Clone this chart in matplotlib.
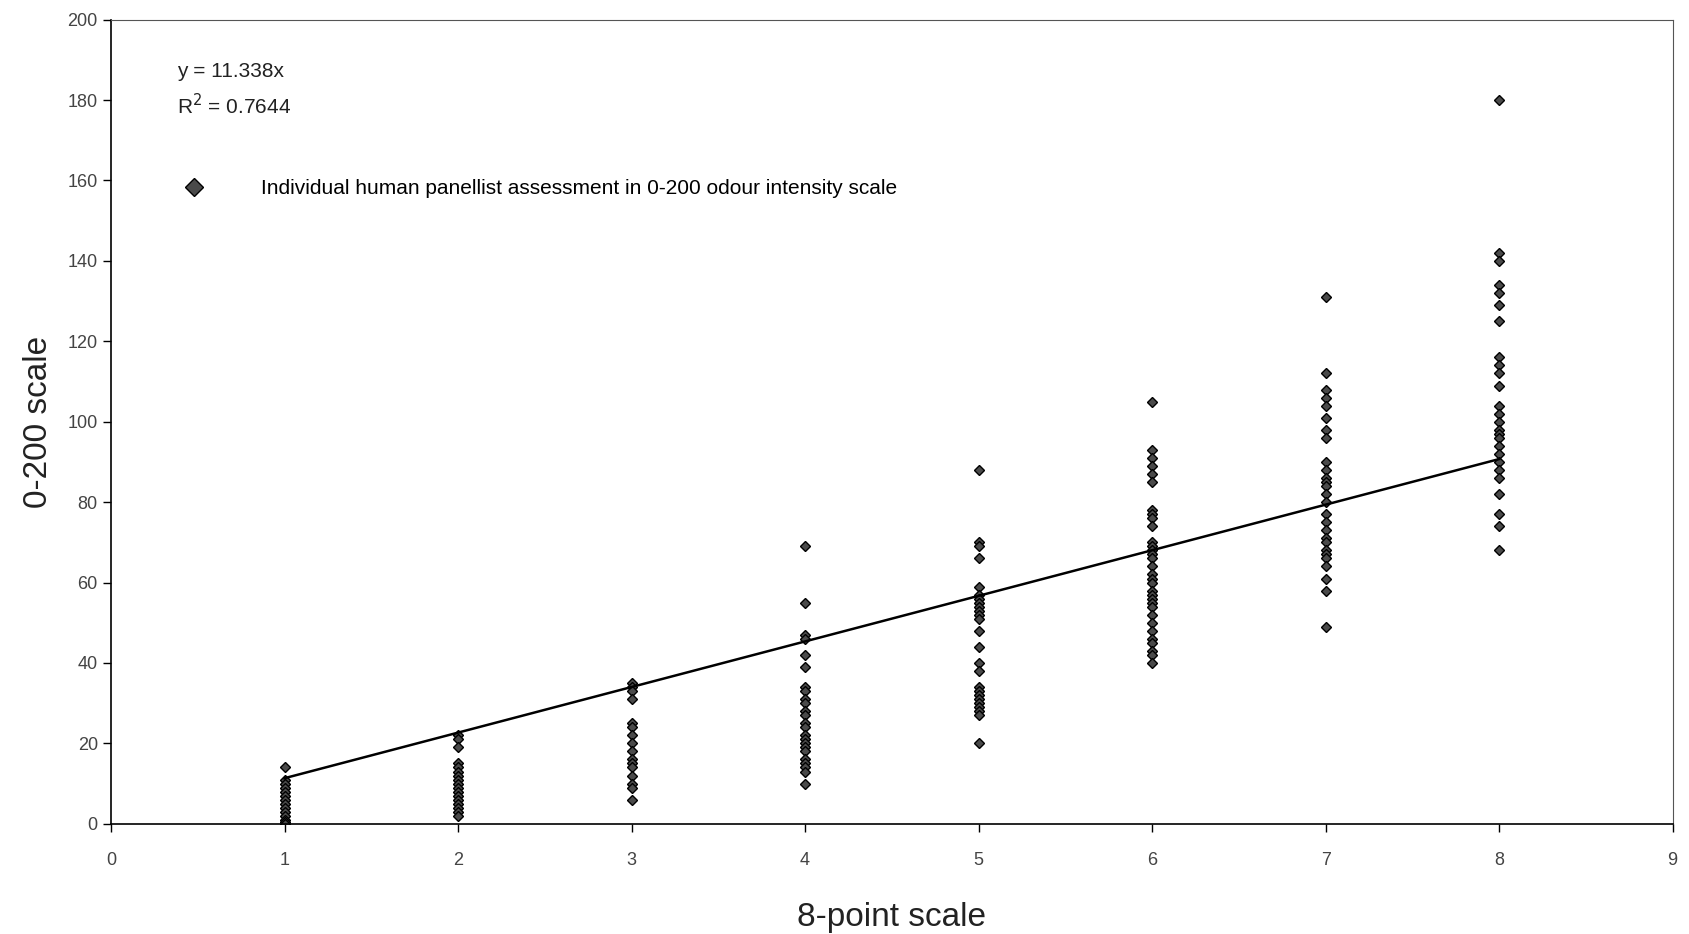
"""Panellist 0-200 odour intensity vs 8-point scale, with linear trend through origin."""

import matplotlib
matplotlib.use("Agg")
import matplotlib.pyplot as plt
import numpy as np

plt.rcParams["font.family"] = ["Liberation Sans", "DejaVu Sans"]

# values, one list per 8-point category
col1 = [14, 11, 10, 9, 8, 7, 6, 5, 4, 3, 2, 1, 0.5, 0]
col2 = [22, 21, 19, 15, 14, 13, 12, 11, 10, 9, 8, 7, 6, 5, 4, 3, 2]
col3 = [35, 34, 33, 31, 25, 24, 22, 20, 18, 16, 15, 14, 12, 10, 9, 6]
col4 = [69, 55, 47, 46, 42, 39, 34, 33, 31, 30, 28, 27, 25, 24, 22, 21, 20,
        19, 18, 16, 15, 14, 13, 10]
col5 = [88, 70, 69, 66, 59, 57, 56, 55, 54, 53, 52, 51, 48, 44, 40, 38, 34,
        33, 32, 31, 30, 29, 28, 27, 20]
col6 = [105, 93, 91, 89, 87, 85, 78, 77, 76, 74, 70, 69, 68, 67, 66, 64, 62,
        61, 60, 58, 57, 56, 55, 54, 52, 50, 48, 46, 45, 43, 42, 40]
col7 = [131, 112, 108, 106, 104, 101, 98, 96, 90, 88, 86, 85, 84, 82, 80,
        77, 75, 73, 71, 70, 68, 67, 66, 64, 61, 58, 49]
col8 = [180, 142, 140, 134, 132, 129, 125, 116, 114, 112, 109, 104, 102, 100,
        98, 97, 96, 94, 92, 90, 88, 86, 82, 77, 74, 68]
columns = [col1, col2, col3, col4, col5, col6, col7, col8]
categories = [1, 2, 3, 4, 5, 6, 7, 8]

slope = 11.338
r_squared = 0.7644

x_vals = np.concatenate([[c] * len(v) for c, v in zip(categories, columns)])
y_vals = np.concatenate(columns)

fig = plt.figure(figsize=(16.9, 9.34), dpi=100)
ax = fig.add_axes([0.0657, 0.118, 0.924, 0.861])

ax.plot(x_vals, y_vals, linestyle="none", marker="D", markersize=5,
        markerfacecolor="#4a4a4a", markeredgecolor="black", markeredgewidth=1.0,
        label="Individual human panellist assessment in 0-200 odour intensity scale")
fit_x = np.array([categories[0], categories[-1]])
ax.plot(fit_x, slope * fit_x, color="black", lw=1.8)

ax.set_xlim(0, 9)
ax.set_ylim(0, 200)
ax.set_xticks(range(0, 10))
ax.set_yticks(range(0, 201, 20))
ax.tick_params(axis="both", labelsize=13, labelcolor="#444444", direction="out",
               length=6, width=1)
ax.tick_params(axis="x", pad=14)
for side in ["left", "bottom"]:
    ax.spines[side].set_linewidth(1.2)
for side in ["top", "right"]:
    ax.spines[side].set_linewidth(0.8)
    ax.spines[side].set_color("#555555")

ax.set_xlabel("8-point scale", fontsize=24, labelpad=24, color="#222222")
ax.set_ylabel("0-200 scale", fontsize=24, labelpad=10, color="#222222")

eq_font = ["Liberation Sans Narrow", "Liberation Sans"]
ax.text(0.042, 0.935, f"y = {slope:.3f}x", transform=ax.transAxes, fontsize=15,
        color="#222222", va="center", family=eq_font)
ax.text(0.042, 0.893, f"R$^2$ = {r_squared:.4f}", transform=ax.transAxes, fontsize=15,
        color="#222222", va="center", family=eq_font)

leg = ax.legend(loc="center left", bbox_to_anchor=(0.028, 0.79), frameon=False,
                handletextpad=2.2, markerscale=1.9,
                prop={"family": eq_font, "size": 15})

fig.savefig("out.png", dpi=100)
